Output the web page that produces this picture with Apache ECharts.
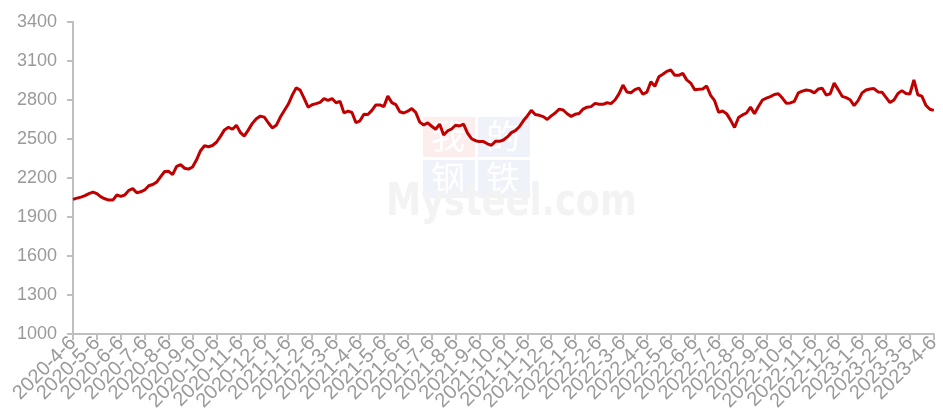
<!DOCTYPE html>
<html lang="zh-CN">
<head>
    <meta charset="UTF-8">
    <title>价格走势</title>
    <script src="https://cdn.jsdelivr.net/npm/echarts@6/dist/echarts.min.js"></script>
    <style>
        html, body { margin: 0; padding: 0; background: #fff; }
        #chart { width: 943px; height: 419px; }
    </style>
</head>
<body>
<div id="chart"></div>
<script>
  // 月度标签 (每6个数据点一个刻度)
  var monthLabels = [
    '2020-4-6', '2020-5-6', '2020-6-6', '2020-7-6', '2020-8-6', '2020-9-6',
    '2020-10-6', '2020-11-6', '2020-12-6', '2021-1-6', '2021-2-6', '2021-3-6',
    '2021-4-6', '2021-5-6', '2021-6-6', '2021-7-6', '2021-8-6', '2021-9-6',
    '2021-10-6', '2021-11-6', '2021-12-6', '2022-1-6', '2022-2-6', '2022-3-6',
    '2022-4-6', '2022-5-6', '2022-6-6', '2022-7-6', '2022-8-6', '2022-9-6',
    '2022-10-6', '2022-11-6', '2022-12-6', '2023-1-6', '2023-2-6', '2023-3-6',
    '2023-4-6'
  ];
  var pointsPerMonth = 6;

  // 价格 (元/吨)
  var prices = [
    2036, 2045, 2053, 2064, 2080, 2092, 2080, 2055, 2040, 2030, 2030, 2069,
    2058, 2069, 2105, 2118, 2087, 2094, 2108, 2140, 2150, 2168, 2210, 2250,
    2251, 2226, 2290, 2302, 2275, 2268, 2285, 2340, 2410, 2448, 2440, 2450,
    2475, 2520, 2570, 2590, 2575, 2605, 2550, 2523, 2570, 2620, 2656, 2676,
    2668, 2625, 2585, 2605, 2667, 2717, 2767, 2836, 2893, 2876, 2813, 2745,
    2764, 2772, 2782, 2810, 2797, 2811, 2779, 2790, 2700, 2715, 2704, 2625,
    2640, 2690, 2688, 2720, 2762, 2762, 2749, 2830, 2780, 2765, 2710, 2700,
    2714, 2734, 2705, 2630, 2608, 2624, 2598, 2575, 2615, 2531, 2562, 2577,
    2606, 2600, 2615, 2545, 2502, 2487, 2480, 2480, 2463, 2452, 2482, 2482,
    2492, 2516, 2549, 2564, 2594, 2640, 2677, 2720, 2688, 2682, 2672, 2650,
    2678, 2700, 2730, 2723, 2694, 2674, 2690, 2696, 2730, 2745, 2749, 2774,
    2767, 2767, 2779, 2772, 2800, 2847, 2915, 2862, 2856, 2880, 2892, 2844,
    2860, 2940, 2905, 2978, 2998, 3020, 3031, 2990, 2990, 3005, 2955, 2930,
    2878, 2882, 2885, 2908, 2835, 2795, 2705, 2715, 2695, 2645, 2588, 2665,
    2685, 2700, 2745, 2695, 2750, 2800, 2814, 2826, 2842, 2848, 2815, 2775,
    2777, 2790, 2855, 2868, 2877, 2872, 2855, 2884, 2890, 2838, 2848, 2930,
    2880, 2828, 2818, 2802, 2757, 2795, 2855, 2877, 2884, 2888, 2862, 2860,
    2820, 2780, 2800, 2850, 2872, 2850, 2846, 2954, 2840, 2830, 2760, 2729,
    2720
  ];

  var yMin = 1000, yMax = 3400, yStep = 300;

  var categories = [];
  for (var i = 0; i < prices.length; i++) {
    categories.push(String(i));
  }

  var axisColor = '#bfbfbf';
  var labelColor = '#9a9a9a';

  var option = {
    animation: false,
    backgroundColor: '#fff',
    grid: {
      left: 73,
      right: 5,
      top: 22,
      bottom: 85
    },
    // 水印
    graphic: [
      { type: 'rect', left: 423, top: 117, shape: { width: 52, height: 40 }, style: { fill: '#fdeeee' }, z: -1 },
      { type: 'rect', left: 478, top: 117, shape: { width: 52, height: 40 }, style: { fill: '#f0f2f9' }, z: -1 },
      { type: 'rect', left: 423, top: 160, shape: { width: 52, height: 38 }, style: { fill: '#f0f2f9' }, z: -1 },
      { type: 'rect', left: 478, top: 160, shape: { width: 52, height: 38 }, style: { fill: '#f0f2f9' }, z: -1 },
      { type: 'text', left: 431, top: 119, style: { text: '我', fill: '#fff', font: '34px "Noto Sans CJK SC"' }, z: -1 },
      { type: 'text', left: 486, top: 119, style: { text: '的', fill: '#fff', font: '34px "Noto Sans CJK SC"' }, z: -1 },
      { type: 'text', left: 431, top: 161, style: { text: '钢', fill: '#fff', font: '34px "Noto Sans CJK SC"' }, z: -1 },
      { type: 'text', left: 486, top: 161, style: { text: '铁', fill: '#fff', font: '34px "Noto Sans CJK SC"' }, z: -1 },
      { type: 'text', x: 386, y: 182, scaleX: 0.8, style: { text: 'Mysteel.com', fill: '#f3f3f3', font: 'bold 44px "DejaVu Sans"' }, z: -1 }
    ],
    xAxis: {
      type: 'category',
      data: categories,
      boundaryGap: false,
      axisLine: {
        lineStyle: { color: axisColor, width: 2 }
      },
      axisTick: {
        show: true,
        interval: pointsPerMonth - 1,
        length: 6,
        lineStyle: { color: axisColor, width: 2 }
      },
      axisLabel: {
        interval: 0,
        rotate: 45,
        margin: 6,
        showMinLabel: true,
        showMaxLabel: true,
        hideOverlap: false,
        color: labelColor,
        fontSize: 20,
        fontFamily: 'Liberation Sans',
        formatter: function(value, idx) {
          // 只在每月刻度处显示
          return idx % pointsPerMonth === 0 ? monthLabels[idx / pointsPerMonth] : '';
        }
      },
      splitLine: { show: false }
    },
    yAxis: {
      type: 'value',
      min: yMin,
      max: yMax,
      interval: yStep,
      axisLine: {
        show: true,
        lineStyle: { color: axisColor, width: 2 }
      },
      axisTick: {
        show: true,
        length: 6,
        lineStyle: { color: axisColor, width: 2 }
      },
      axisLabel: {
        margin: 16,
        color: labelColor,
        fontSize: 18,
        fontFamily: 'Liberation Sans',
        formatter: function(v) {
          return String(v);
        }
      },
      splitLine: { show: false }
    },
    series: [
      {
        type: 'line',
        data: prices,
        symbol: 'none',
        lineStyle: { color: '#c00000', width: 3 },
        z: 5
      }
    ]
  };

  var myChart = echarts.init(document.getElementById('chart'));
  myChart.setOption(option);
</script>
</body>
</html>
